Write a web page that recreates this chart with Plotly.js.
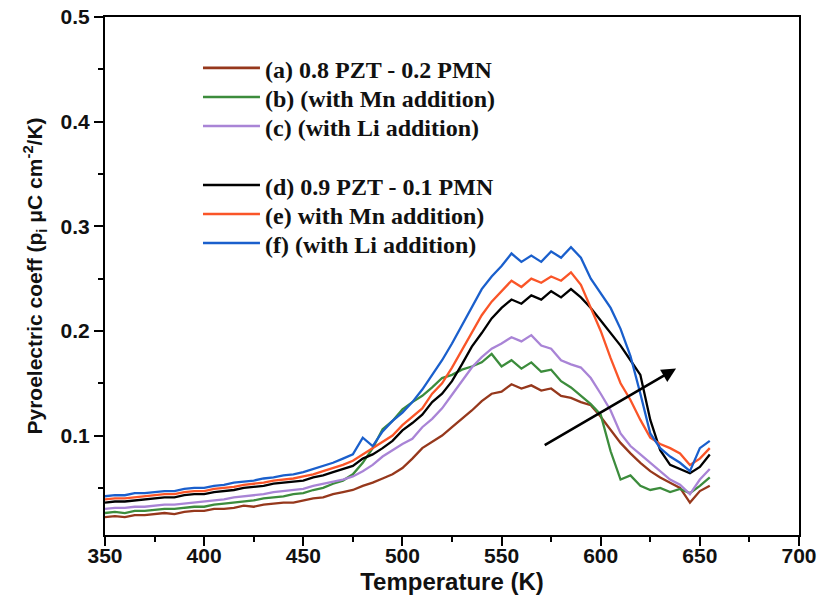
<!DOCTYPE html>
<html>
<head>
<meta charset="utf-8">
<script src="https://cdn.plot.ly/plotly-3.0.1.min.js"></script>
<style>html,body{margin:0;padding:0;background:#fff;}#chart{width:819px;height:604px;}</style>
</head>
<body>
<div id="chart"></div>
<script>
// Temperature (K)
const temperature = [350,355,360,365,370,375,380,385,390,395,400,405,410,415,420,425,430,435,440,445,450,455,460,465,470,475,480,485,490,495,500,505,510,515,520,525,530,535,540,545,550,555,560,565,570,575,580,585,590,595,600,605,610,615,620,625,630,635,640,645,650,655];

// (a) 0.8 PZT - 0.2 PMN
const seriesA = [0.022,0.023,0.022,0.024,0.024,0.025,0.026,0.025,0.027,0.028,0.028,0.030,0.030,0.031,0.033,0.032,0.034,0.035,0.036,0.036,0.038,0.040,0.041,0.044,0.046,0.048,0.052,0.055,0.059,0.063,0.069,0.078,0.088,0.094,0.100,0.108,0.116,0.124,0.133,0.140,0.142,0.149,0.145,0.148,0.143,0.145,0.138,0.136,0.132,0.129,0.118,0.106,0.093,0.083,0.074,0.066,0.060,0.055,0.050,0.036,0.047,0.052];
// (b) with Mn addition
const seriesB = [0.026,0.027,0.026,0.028,0.028,0.029,0.030,0.030,0.031,0.032,0.032,0.034,0.035,0.036,0.037,0.038,0.040,0.041,0.042,0.044,0.045,0.048,0.050,0.054,0.057,0.063,0.074,0.088,0.106,0.114,0.125,0.132,0.138,0.146,0.155,0.158,0.163,0.166,0.170,0.178,0.166,0.172,0.164,0.170,0.161,0.163,0.152,0.146,0.138,0.130,0.120,0.085,0.058,0.062,0.052,0.048,0.050,0.046,0.049,0.045,0.052,0.060];
// (c) with Li addition
const seriesC = [0.030,0.031,0.031,0.032,0.032,0.033,0.034,0.034,0.035,0.036,0.037,0.038,0.039,0.041,0.042,0.043,0.044,0.046,0.047,0.048,0.049,0.052,0.054,0.056,0.058,0.061,0.066,0.072,0.080,0.086,0.092,0.097,0.108,0.116,0.126,0.139,0.152,0.165,0.175,0.183,0.188,0.194,0.190,0.196,0.186,0.183,0.172,0.168,0.165,0.155,0.140,0.124,0.102,0.090,0.082,0.074,0.066,0.058,0.053,0.044,0.058,0.068];
// (d) 0.9 PZT - 0.1 PMN
const seriesD = [0.036,0.037,0.037,0.038,0.039,0.040,0.041,0.041,0.043,0.044,0.044,0.046,0.047,0.048,0.050,0.051,0.052,0.054,0.055,0.056,0.057,0.060,0.062,0.065,0.068,0.071,0.078,0.082,0.088,0.095,0.105,0.112,0.120,0.132,0.140,0.152,0.168,0.185,0.198,0.212,0.222,0.230,0.226,0.234,0.230,0.238,0.232,0.240,0.232,0.222,0.210,0.198,0.186,0.172,0.158,0.115,0.086,0.072,0.068,0.064,0.070,0.082];
// (e) with Mn addition
const seriesE = [0.039,0.040,0.040,0.041,0.042,0.043,0.044,0.044,0.046,0.047,0.047,0.049,0.050,0.051,0.053,0.054,0.055,0.057,0.058,0.059,0.061,0.063,0.066,0.069,0.072,0.076,0.082,0.088,0.094,0.100,0.110,0.118,0.126,0.140,0.150,0.165,0.182,0.198,0.215,0.228,0.238,0.248,0.242,0.250,0.246,0.252,0.248,0.256,0.244,0.222,0.200,0.174,0.150,0.134,0.115,0.098,0.092,0.088,0.083,0.072,0.078,0.088];
// (f) with Li addition
const seriesF = [0.042,0.043,0.043,0.045,0.045,0.046,0.047,0.047,0.049,0.050,0.050,0.052,0.053,0.055,0.056,0.057,0.059,0.060,0.062,0.063,0.065,0.068,0.071,0.074,0.078,0.082,0.098,0.090,0.104,0.114,0.122,0.132,0.144,0.158,0.172,0.188,0.205,0.222,0.240,0.252,0.262,0.274,0.266,0.272,0.266,0.276,0.270,0.280,0.270,0.250,0.236,0.222,0.202,0.176,0.140,0.102,0.088,0.080,0.074,0.066,0.088,0.095];

const names = ['(a) 0.8 PZT - 0.2 PMN','(b) (with Mn addition)','(c) (with Li addition)','(d) 0.9 PZT - 0.1 PMN','(e) with Mn addition)','(f) (with Li addition)'];
const colors = ['#96381c','#3c8c3c','#a984d6','#000000','#fa5528','#1a5fcc'];
const allSeries = [seriesA,seriesB,seriesC,seriesD,seriesE,seriesF];

// arrow (trend) endpoints in data coords
const arrowTail = [571, 0.090];
const arrowHead = [638, 0.164];

const traces = allSeries.map((s,i)=>({
  x: temperature, y: s, type:'scatter', mode:'lines', name: names[i],
  line:{color:colors[i], width:2.3}
}));

// legend key placement (paper fractions of the plot area)
const legendRowY = [0.8977,0.8417,0.7857,0.6718,0.6158,0.5598];
const legendKeyX = [0.1412,0.2233];
const legendTextX = 0.2277;

const legendFont = {family:'Liberation Serif, Times New Roman, serif', size:24, color:'#111', weight:'bold'};
const legendAnn = names.map((n,i)=>({xref:'paper', yref:'paper', x:legendTextX, y:legendRowY[i], xanchor:'left', yanchor:'middle',
  text:n, showarrow:false, font:legendFont}));
const legendShapes = names.map((n,i)=>({type:'line', xref:'paper', yref:'paper', x0:legendKeyX[0], x1:legendKeyX[1],
  y0:legendRowY[i]+0.004, y1:legendRowY[i]+0.004, line:{color:colors[i], width:2.6}}));

const axisFont = {family:'Liberation Sans, Arial, sans-serif', size:21, color:'#111', weight:'bold'};

const layout = {
  width:819, height:604,
  paper_bgcolor:'#fff', plot_bgcolor:'#fff',
  margin:{l:105, r:20, t:17, b:69},
  showlegend:false,
  xaxis:{range:[350,700], dtick:50, tick0:350, ticks:'outside', ticklen:9, tickwidth:2, tickcolor:'#000',
    showline:true, linecolor:'#000', linewidth:2, mirror:true, showgrid:false, zeroline:false,
    tickfont:axisFont, ticklabelstandoff:-8,
    minor:{dtick:25, ticks:'outside', ticklen:5, tickwidth:2, tickcolor:'#000'},
    title:{text:'Temperature (K)', font:{family:'Liberation Sans, Arial, sans-serif', size:24, color:'#111', weight:'bold'}, standoff:7}},
  yaxis:{range:[0.005,0.5], dtick:0.1, tick0:0, tickformat:'.1f', ticks:'outside', ticklen:9, tickwidth:2, tickcolor:'#000',
    showline:true, linecolor:'#000', linewidth:2, mirror:true, showgrid:false, zeroline:false,
    tickfont:axisFont,
    minor:{dtick:0.05, ticks:'outside', ticklen:5, tickwidth:2, tickcolor:'#000'},
    title:{text:'Pyroelectric coeff (p<sub>i</sub> μC cm<sup>-2</sup>/K)', font:{family:'Liberation Sans, Arial, sans-serif', size:21, color:'#111', weight:'bold'}, standoff:12}},
  yaxis2:{range:[0.005,0.5], overlaying:'y', side:'right', tickvals:[0.05,0.15,0.25,0.35,0.45],
    ticks:'inside', ticklen:5, tickwidth:2, tickcolor:'#000', showticklabels:false, showline:false, showgrid:false, zeroline:false},
  shapes: legendShapes,
  annotations: legendAnn.concat([{x:arrowHead[0], y:arrowHead[1], ax:arrowTail[0], ay:arrowTail[1], xref:'x', yref:'y', axref:'x', ayref:'y',
    text:'', showarrow:true, arrowhead:2, arrowsize:1.1, arrowwidth:2.6, arrowcolor:'#000'}])
};

Plotly.newPlot('chart', traces, layout, {displayModeBar:false, staticPlot:true});
</script>
</body>
</html>
